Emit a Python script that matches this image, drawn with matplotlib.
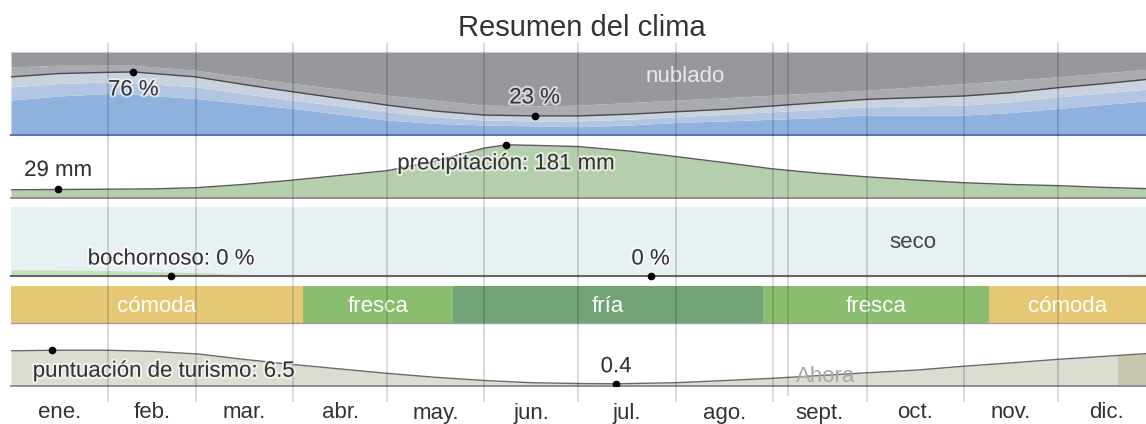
import matplotlib
matplotlib.use("Agg")
import matplotlib.pyplot as plt
import matplotlib.patheffects as pe
from matplotlib.patches import Rectangle
from matplotlib.transforms import blended_transform_factory

# ---- data (days of the year) ----
month_labels = ["ene.", "feb.", "mar.", "abr.", "may.", "jun.",
                "jul.", "ago.", "sept.", "oct.", "nov.", "dic."]
month_starts = [0, 31, 59, 90, 120, 151, 181, 212, 243, 273, 304, 334, 365]

# cloud cover, cumulative boundaries in % from the bottom
cloud_days = [0, 15, 31, 39, 59, 74, 90, 105, 120, 135, 151, 167, 181,
              197, 212, 228, 243, 258, 273, 289, 304, 319, 334, 349, 365]
clear_top = [42, 47, 50, 49, 44, 38, 32, 25, 18, 14, 12, 11, 10,
             12, 15, 17, 19, 21, 24, 24, 24, 27, 32, 37, 42]
mostly_clear_top = [58, 62, 64, 63, 58, 50, 42, 35, 28, 22, 18, 17, 17,
                    19, 22, 25, 28, 31, 34, 35, 36, 40, 46, 51, 56]
cloudy_pct = [70, 74, 75.5, 76, 70, 61, 52, 44, 36, 29, 24, 23, 23,
              25, 28, 31, 35, 39, 43, 45, 47, 51, 57, 62, 68]
mostly_cloudy_top = [82, 84, 84, 84, 78, 70, 62, 55, 48, 42, 36, 35, 36,
                     39, 42, 45, 48, 51, 54, 58, 62, 66, 70, 75, 80]

# precipitation (mm)
precip_days = [0, 15, 31, 45, 59, 74, 90, 105, 120, 135, 151, 158, 167,
               181, 197, 212, 228, 243, 258, 273, 289, 304, 319, 334, 349, 365]
precip_mm = [28, 29, 30, 31, 35, 46, 61, 77, 93, 125, 170, 181, 179,
             175, 160, 141, 120, 99, 84, 72, 61, 52, 46, 42, 36, 31]

# humidity (%)
humid_days = [0, 31, 59, 75, 90, 340, 352, 365]
humid_pct = [9, 8, 5, 2, 0, 0, 2, 4]
muggy_days = [0, 365]
muggy_pct = [0, 0]

# comfort bands
comfort_start = [0, 93, 141, 240, 312]
comfort_end = [93, 141, 240, 312, 365]
comfort_names = ["cómoda", "fresca", "fría", "fresca", "cómoda"]

# tourism score
tour_days = [0, 13, 31, 45, 60, 75, 90, 105, 120, 135, 151, 166, 181, 193,
             212, 228, 243, 258, 273, 289, 304, 319, 334, 349, 365]
tour_score = [6.4, 6.5, 6.5, 6.3, 5.8, 4.8, 3.9, 3.1, 2.3, 1.6, 1.0, 0.6, 0.45, 0.4,
              0.6, 1.0, 1.4, 1.9, 2.4, 2.9, 3.6, 4.2, 4.85, 5.4, 6.0]
best_start = 353
now_day = 248

# ---- layout ----
W, H = 1146, 424
X0, PX_PER_DAY = 11, 3.135
XMAX = (W - X0) / PX_PER_DAY

comfort_colors = {"cómoda": "#e6c874", "fresca": "#8abe6f", "fría": "#70a476"}
FONT = "Liberation Sans"
TXT = "#333333"
halo = [pe.withStroke(linewidth=3, foreground="white", alpha=0.6)]

plt.rcParams["font.family"] = [FONT, "DejaVu Sans"]


def panel(fig, top, bottom, ymax):
    ax = fig.add_axes([X0 / W, 1 - bottom / H, (W - X0) / W, (bottom - top) / H])
    ax.set_xlim(0, XMAX)
    ax.set_ylim(0, ymax)
    ax.set_axis_off()
    return ax


def base_line(ax, color, lw=1.3):
    ax.axhline(0, color=color, lw=lw, zorder=8, clip_on=False)


def label(ax, text, x, y, dy, dx=0, ha="center", **kw):
    ax.annotate(text, (x, y), xytext=(dx, dy), textcoords="offset pixels",
                ha=ha, va="center", fontsize=16, color=kw.pop("color", TXT),
                path_effects=kw.pop("path_effects", halo), zorder=10, **kw)


def main():
    fig = plt.figure(figsize=(W / 100, H / 100), dpi=100)

    fig.text(582 / W, 1 - 36 / H, "Resumen del clima", ha="center", va="baseline",
             fontsize=21, color=TXT)

    # cloud cover
    ax = panel(fig, 52, 135, 100)
    ax.fill_between(cloud_days, 0, clear_top, color="#8fb1dd", lw=0)
    ax.fill_between(cloud_days, clear_top, mostly_clear_top, color="#b2c6e3", lw=0)
    ax.fill_between(cloud_days, mostly_clear_top, cloudy_pct, color="#cad2de", lw=0)
    ax.fill_between(cloud_days, cloudy_pct, mostly_cloudy_top, color="#a9abb1", lw=0)
    ax.fill_between(cloud_days, mostly_cloudy_top, 100, color="#96989d", lw=0)
    ax.plot(cloud_days, cloudy_pct, color="#4a4a4a", lw=1)
    base_line(ax, "#5d78a6", 1.5)
    ax.text((685 - X0) / PX_PER_DAY, 70, "nublado", ha="center",
            va="center", fontsize=16, color="#e8e8e8")
    ax.plot([39, 167], [76, 23], "o", color="black", ms=4.5, zorder=9)
    label(ax, "76 %", 39, 76, -18)
    label(ax, "23 %", 167, 23, 18)

    # precipitation
    ax = panel(fig, 136, 198, 211)
    ax.fill_between(precip_days, 0, precip_mm, color="#b5cfae", lw=0)
    ax.plot(precip_days, precip_mm, color="#5a5a5a", lw=1)
    base_line(ax, "#8a8a8a")
    ax.plot([15, 158], [29, 181], "o", color="black", ms=4.5, zorder=9)
    label(ax, "29 mm", 15, 29, 19)
    label(ax, "precipitación: 181 mm", 158, 181, -19)

    # humidity
    ax = panel(fig, 207, 276, 100)
    ax.axhspan(0, 100, color="#e7f0f3", lw=0)
    ax.fill_between(humid_days, 0, humid_pct, color="#c4e3b4", lw=0)
    ax.plot(muggy_days, muggy_pct, color="#666666", lw=1.5, zorder=8, clip_on=False)
    ax.text((913 - X0) / PX_PER_DAY, (276 - 243) / 69 * 100, "seco", ha="center",
            va="center", fontsize=16, color="#444444")
    ax.plot([51, 204], [0, 0], "o", color="black", ms=4.5, zorder=9, clip_on=False)
    label(ax, "bochornoso: 0 %", 51, 0, 17)
    label(ax, "0 %", 204, 0, 17)

    # comfort bands
    ax = panel(fig, 286, 323, 1)
    for s, e, name in zip(comfort_start, comfort_end, comfort_names):
        ax.axvspan(s, e, color=comfort_colors[name], lw=0)
        mid = (s + min(e, XMAX)) / 2
        ax.text(mid, 0.45, name, ha="center", va="center", fontsize=16, color="white")
    base_line(ax, "#a0a0a0", 1)

    # tourism score
    ax = panel(fig, 331, 386, 10)
    ax.fill_between(tour_days, 0, tour_score, color="#dcdcd0", lw=0)
    dark = ax.fill_between(tour_days, 0, tour_score, color="#c6c6b1", lw=0)
    dark.set_clip_path(Rectangle((best_start, 0), XMAX - best_start, 10,
                                 transform=ax.transData))
    ax.plot(tour_days, tour_score, color="#6a6a6a", lw=1)
    base_line(ax, "#8a8a8a")
    ax.plot([13, 193], [6.5, 0.4], "o", color="black", ms=4.5, zorder=9)
    label(ax, "puntuación de turismo: 6.5", 13, 6.5, -21, dx=-19, ha="left")
    label(ax, "0.4", 193, 0.4, 17)
    ax.annotate("Ahora", (now_day, 0), xytext=(7, 10), textcoords="offset pixels",
                ha="left", va="center", fontsize=16, color="#a8a8a8")

    # month grid and labels
    grid = fig.add_axes([X0 / W, 1 - 402 / H, (W - X0) / W, (402 - 43) / H])
    grid.set_xlim(0, XMAX)
    grid.set_ylim(0, 1)
    grid.set_axis_off()
    grid.patch.set_alpha(0)
    for d in month_starts[1:-1]:
        grid.axvline(d, color="black", alpha=0.17, lw=1.2)
    grid.axvline(now_day, ymin=0.02, color="black", alpha=0.17, lw=1.2)
    trans = blended_transform_factory(grid.transData, fig.transFigure)
    for name, s, e in zip(month_labels, month_starts[:-1], month_starts[1:]):
        grid.text((s + e) / 2, 1 - 413 / H, name, transform=trans, ha="center",
                  va="center", fontsize=16, color=TXT, clip_on=False)

    fig.savefig("out.png", dpi=100)


if __name__ == "__main__":
    main()
